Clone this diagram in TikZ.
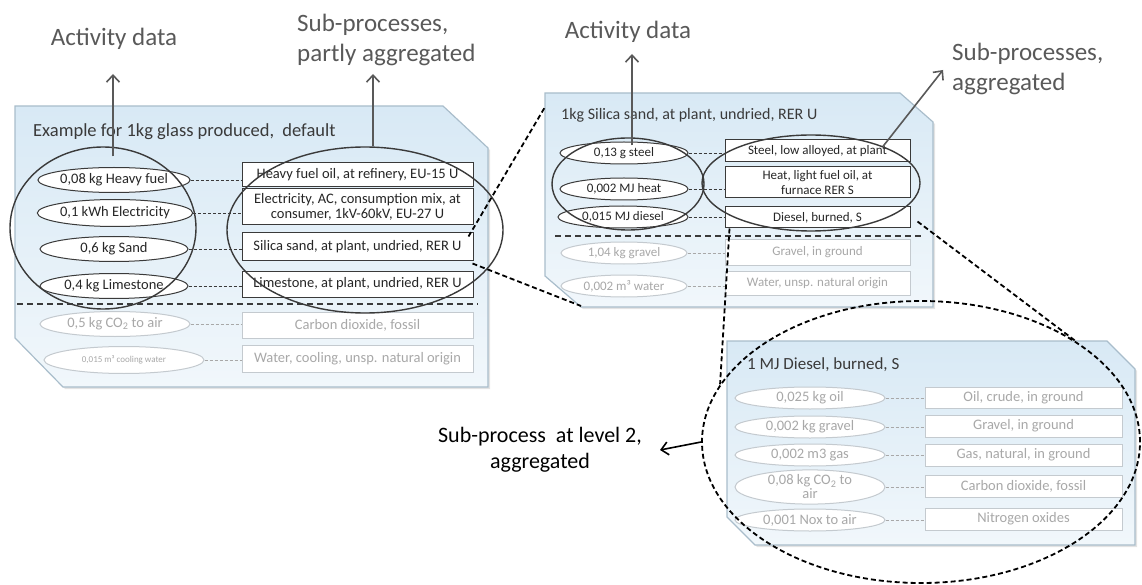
\documentclass[tikz,border=0pt]{standalone}
\usepackage{fontspec}
\setmainfont{Carlito}
\usetikzlibrary{shapes.geometric,arrows.meta,shadows,calc}

\definecolor{lbl}{HTML}{595959}
\definecolor{ink}{HTML}{3A3A3A}
\definecolor{txt}{HTML}{262626}
\definecolor{faint}{HTML}{A8A8A8}
\definecolor{faintline}{HTML}{C4CACF}
\definecolor{panelA}{HTML}{D8E9F5}
\definecolor{panelB}{HTML}{F1F7FB}
\definecolor{panelrim}{HTML}{A9BDCB}

\newcommand{\labfont}{\fontsize{25}{30}\selectfont}
\newcommand{\lvlfont}{\fontsize{22}{26}\selectfont}
\newcommand{\ttlfontA}{\fontsize{18.5}{22}\selectfont}
\newcommand{\ttlfontB}{\fontsize{16}{19}\selectfont}
\newcommand{\ttlfontC}{\fontsize{17}{20}\selectfont}
\newcommand{\smfontA}{\fontsize{14.5}{15.5}\selectfont}
\newcommand{\smfontB}{\fontsize{13}{14.5}\selectfont}
\newcommand{\smfontC}{\fontsize{14.5}{14}\selectfont}

\begin{document}
\begin{tikzpicture}[x=1pt,y=-1pt,
  panel/.style={draw=panelrim, line width=1.2pt, top color=panelA, bottom color=panelB,
    drop shadow={opacity=.22, shadow xshift=2pt, shadow yshift=-2pt}},
  ptitle/.style={anchor=west, inner sep=0pt, text=ink},
  act/.style={ellipse, draw=ink, line width=1pt, fill=white, inner sep=0pt, text=txt, align=center},
  actfaint/.style={act, draw=faintline, text=faint},
  proc/.style={rectangle, draw=ink, line width=1pt, fill=white, inner sep=1pt, text=txt, align=center},
  procfaint/.style={proc, draw=faintline, text=faint},
  link/.style={draw=ink, line width=.8pt, dash pattern=on 3pt off 2pt},
  linkfaint/.style={link, draw=faint},
  grp/.style={ellipse, draw=ink, line width=1.4pt, inner sep=0pt},
  sep/.style={draw=ink, line width=1.6pt, dash pattern=on 6pt off 4pt},
  zoomline/.style={draw=black, line width=1.8pt, dash pattern=on 5pt off 3pt},
  lab/.style={text=lbl, inner sep=0pt, font=\labfont},
  up/.style={draw=lbl, line width=1.6pt, -{Straight Barb[length=7pt,width=13pt,line width=1.6pt]}}
]
\useasboundingbox (0,0) rectangle (1142,585);

% ---------- process panels ----------
\path[panel] (15,106) -- (443,106) -- (488,148) -- (488,387) -- (63,387) -- (15,338) -- cycle;
\path[panel] (545,93) -- (900,93) -- (933,122) -- (933,307) -- (581,307) -- (545,276) -- cycle;
\path[panel] (727,341) -- (1107,341) -- (1135,369) -- (1135,545) -- (755,545) -- (727,517) -- cycle;

% ---------- glass process ----------
\node[ptitle, font=\ttlfontA] (tA) at (33,132) {Example for 1kg glass produced,\ \ default};

\begin{scope}[every node/.append style={font=\smfontA}]
\node[act, minimum width=148pt, minimum height=25pt] (a1) at (114,180) {0,08 kg Heavy fuel};
\node[act, minimum width=150pt, minimum height=27pt] (a2) at (115,213) {0,1 kWh Electricity};
\node[act, minimum width=148pt, minimum height=25pt] (a3) at (114,249) {0,6 kg Sand};
\node[act, minimum width=148pt, minimum height=25pt] (a4) at (114,286) {0,4 kg Limestone};
\node[actfaint, minimum width=150pt, minimum height=25pt] (a5) at (115,324) {0,5 kg CO\textsubscript{2} to air};
\node[actfaint, minimum width=160pt, minimum height=27pt, font=\fontsize{9}{10}\selectfont] (a6) at (124,360) {0,015 m³ cooling water};

\node[proc, minimum width=231pt, minimum height=24pt] (p1) at (357.5,175) {Heavy fuel oil, at refinery, EU-15 U};
\node[proc, minimum width=231pt, minimum height=36pt] (p2) at (357.5,207) {Electricity, AC, consumption mix, at\\consumer, 1kV-60kV, EU-27 U};
\node[proc, minimum width=231pt, minimum height=27pt] (p3) at (357.5,246.5) {Silica sand, at plant, undried, RER U};
\node[proc, minimum width=231pt, minimum height=26pt] (p4) at (357.5,284) {Limestone, at plant, undried, RER U};
\node[procfaint, minimum width=231pt, minimum height=26pt] (p5) at (357.5,325) {Carbon dioxide, fossil};
\node[procfaint, minimum width=231pt, minimum height=27pt] (p6) at (357.5,358.5) {Water, cooling, unsp. natural origin};
\end{scope}

\foreach \i in {1,2,3,4} \draw[link] (a\i.east) -- (a\i.east -| p\i.west);
\foreach \i in {5,6} \draw[linkfaint] (a\i.east) -- (a\i.east -| p\i.west);

\coordinate (sepAl) at (17,304);
\coordinate (sepAr) at (478,304);
\draw[sep] (sepAl) -- (sepAr);

\node[grp, minimum width=186pt, minimum height=162pt] (gA) at (103,228) {};
\node[grp, minimum width=276pt, minimum height=166pt] (gB) at (365,230) {};

% ---------- silica sand process ----------
\node[ptitle, font=\ttlfontB] (tB) at (561,115) {1kg Silica sand, at plant, undried, RER U};

\begin{scope}[every node/.append style={font=\smfontB}]
\node[act, minimum width=128pt, minimum height=22pt] (b1) at (624,153) {0,13 g steel};
\node[act, minimum width=128pt, minimum height=22pt] (b2) at (624,189) {0,002 MJ heat};
\node[act, minimum width=130pt, minimum height=22pt] (b3) at (623,217) {0,015 MJ diesel};
\node[actfaint, minimum width=126pt, minimum height=22pt] (b4) at (624,253) {1,04 kg gravel};
\node[actfaint, minimum width=126pt, minimum height=22pt] (b5) at (624,286) {0,002 m³ water};

\node[proc, minimum width=185pt, minimum height=22pt] (q1) at (817.5,151) {Steel, low alloyed, at plant};
\node[proc, minimum width=185pt, minimum height=31pt] (q2) at (817.5,182.5) {Heat, light fuel oil, at\\furnace RER S};
\node[proc, minimum width=185pt, minimum height=21pt] (q3) at (817.5,217.5) {Diesel, burned, S};
\node[procfaint, minimum width=185pt, minimum height=25pt] (q4) at (817.5,252.5) {Gravel, in ground};
\node[procfaint, minimum width=185pt, minimum height=24pt] (q5) at (817.5,283) {Water, unsp. natural origin};
\end{scope}

\foreach \i in {1,2,3} \draw[link] (b\i.east) -- (b\i.east -| q\i.west);
\foreach \i in {4,5} \draw[linkfaint] (b\i.east) -- (b\i.east -| q\i.west);

\coordinate (sepBl) at (555,236);
\coordinate (sepBr) at (923,236);
\draw[sep] (sepBl) -- (sepBr);

\node[grp, minimum width=152pt, minimum height=92pt] (gC) at (628,184) {};
\node[grp, minimum width=218pt, minimum height=96pt] (gD) at (811,183) {};

% ---------- diesel process (level 2) ----------
\node[ptitle, font=\ttlfontC] (tC) at (747,365) {1 MJ Diesel, burned, S};

\begin{scope}[every node/.append style={font=\smfontC}]
\node[actfaint, minimum width=150pt, minimum height=22pt] (c1) at (810,398) {0,025 kg oil};
\node[actfaint, minimum width=150pt, minimum height=22pt] (c2) at (810,427) {0,002 kg gravel};
\node[actfaint, minimum width=150pt, minimum height=22pt] (c3) at (810,455) {0,002 m3 gas};
\node[actfaint, minimum width=150pt, minimum height=32pt] (c4) at (810,487) {0,08 kg CO\textsubscript{2} to\\air};
\node[actfaint, minimum width=150pt, minimum height=22pt] (c5) at (810,520) {0,001 Nox to air};

\node[procfaint, minimum width=197pt, minimum height=21pt] (r1) at (1023.5,397.5) {Oil, crude, in ground};
\node[procfaint, minimum width=197pt, minimum height=22pt] (r2) at (1023.5,426) {Gravel, in ground};
\node[procfaint, minimum width=197pt, minimum height=22pt] (r3) at (1023.5,455) {Gas, natural, in ground};
\node[procfaint, minimum width=197pt, minimum height=22pt] (r4) at (1023.5,486) {Carbon dioxide, fossil};
\node[procfaint, minimum width=197pt, minimum height=22pt] (r5) at (1023.5,519) {Nitrogen oxides};
\end{scope}

\foreach \i in {1,2,3,4,5} \draw[linkfaint] (c\i.east) -- (c\i.east -| r\i.west);

\node[ellipse, draw=black, line width=1.8pt, dash pattern=on 5pt off 3pt, inner sep=0pt,
      minimum width=438pt, minimum height=282pt] (lvl2) at (921,442) {};

% ---------- labels and arrows ----------
\node[lab] (lA) at (114,39) {Activity data};
\node[lab, anchor=west, align=left] (lB) at (297,40) {Sub-processes,\\partly aggregated};
\node[lab] (lC) at (628,32) {Activity data};
\node[lab, anchor=west, align=left] (lD) at (952,69) {Sub-processes,\\aggregated};
\node[inner sep=0pt, font=\lvlfont, text=black, align=center] (lE) at (540,450) {Sub-process~ at level 2,\\aggregated};

\coordinate (tipA) at (113,74);
\coordinate (tipB) at (373,74);
\coordinate (tipC) at (632,54);
\coordinate (tipD) at (943,70);
\draw[up] ($(gA.north)+(10,10)$) -- (tipA);
\draw[up] ($(gB.north)+(8,0)$) -- (tipB);
\draw[up] ($(gC.north)+(4,8)$) -- (tipC);
\draw[up] (gD.27) -- (tipD);
\draw[draw=black, line width=1.6pt, -{Straight Barb[length=7pt,width=13pt,line width=1.6pt]}]
  (lvl2.west) -- (lE.east -| 660,0);

% ---------- zoom lines between levels ----------
\coordinate (midL) at (545,107);
\coordinate (midBL) at (581,306);
\draw[zoomline] ($(p3.north east)+(-5,4)$) -- (midL);
\draw[zoomline] ($(p3.south east)+(-1,3)$) -- (midBL);
\draw[zoomline] ($(q3.east)+(7,4)$) -- (lvl2.33);
\draw[zoomline] ($(q3.south west)+(5,0)$) -- (lvl2.164);

\end{tikzpicture}
\end{document}
